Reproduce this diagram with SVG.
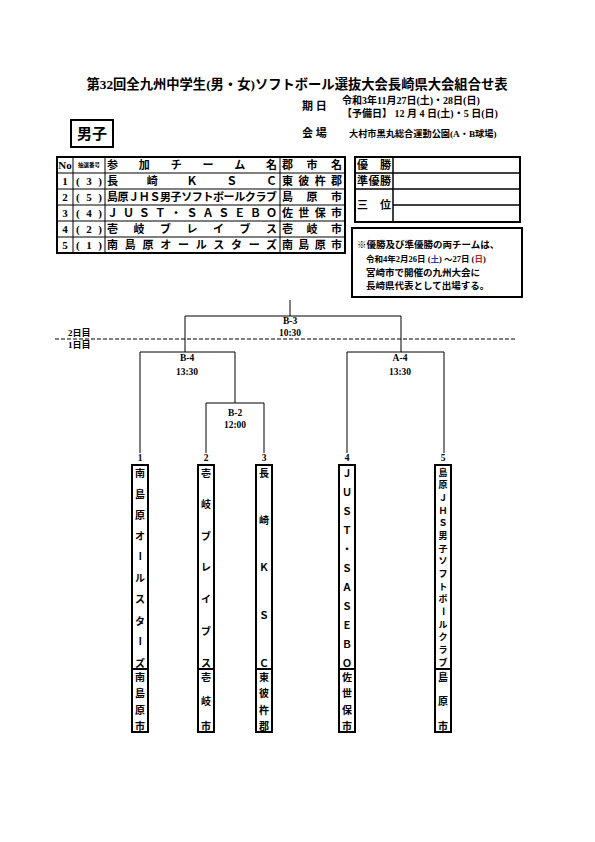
<svg xmlns="http://www.w3.org/2000/svg" width="595" height="842" viewBox="0 0 595 842">
<style>
text{font-family:"Liberation Serif","Noto Sans CJK JP",serif;font-weight:bold;fill:#000}
.c{text-anchor:middle;dominant-baseline:central}
.t{font-size:11px;dominant-baseline:central}
.v{font-family:"Noto Sans CJK JP",sans-serif;font-size:10px;text-anchor:middle;dominant-baseline:central}
.v5{font-size:9px}
.lbl{font-size:9.5px;text-anchor:middle}
.box{fill:none;stroke:#000;stroke-width:2}
.ln{fill:none;stroke:#000;stroke-width:1}
.w{stroke:#000;stroke-width:1.2}
</style>
<rect width="595" height="842" fill="#fff"/>

<g id="header">
<text x="297" y="89" font-size="13.3" text-anchor="middle">第32回全九州中学生(男・女)ソフトボール選抜大会長崎県大会組合せ表</text>
<text x="302" y="110" font-size="11">期 日</text>
<text x="342" y="104" font-size="10">令和3年11月27日(土)・28日(日)</text>
<text x="342" y="117" font-size="10">【予備日】 12 月 4 日(土)・5 日(日)</text>
<text x="302" y="137" font-size="11">会 場</text>
<text x="349" y="137" font-size="9.2">大村市黒丸総合運動公園(A・B球場)</text>
</g>

<g id="category">
<rect x="71" y="120" width="42" height="27" class="box"/>
<text x="92" y="134" font-size="15" class="c">男子</text>
</g>

<g id="entry-table">
<rect x="57" y="157" width="288" height="96" class="box"/>
<g class="ln">
<line x1="57" y1="173" x2="345" y2="173"/>
<line x1="57" y1="189" x2="345" y2="189"/>
<line x1="57" y1="205" x2="345" y2="205"/>
<line x1="57" y1="221" x2="345" y2="221"/>
<line x1="57" y1="237" x2="345" y2="237"/>
<line x1="73" y1="157" x2="73" y2="253"/>
<line x1="105" y1="157" x2="105" y2="253"/>
<line x1="280" y1="157" x2="280" y2="253"/>
</g>
<text x="65" y="165" class="c" font-size="11">No</text>
<text x="89" y="165" class="c" font-size="5.5">抽選番号</text>
<text x="107" y="165" class="t" textLength="170" lengthAdjust="spacing">参加チーム名</text>
<text x="282" y="165" class="t" textLength="60" lengthAdjust="spacing">郡市名</text>

<text x="65" y="181" class="c" font-size="11">1</text>
<text x="76" y="181" class="t" textLength="26" lengthAdjust="spacing">(3)</text>
<text x="107" y="181" class="t" textLength="170" lengthAdjust="spacing">長崎ＫＳＣ</text>
<text x="282" y="181" class="t" textLength="60" lengthAdjust="spacing">東彼杵郡</text>

<text x="65" y="197" class="c" font-size="11">2</text>
<text x="76" y="197" class="t" textLength="26" lengthAdjust="spacing">(5)</text>
<text x="107" y="197" class="t" textLength="170" lengthAdjust="spacing">島原ＪＨＳ男子ソフトボールクラブ</text>
<text x="282" y="197" class="t" textLength="60" lengthAdjust="spacing">島原市</text>

<text x="65" y="213" class="c" font-size="11">3</text>
<text x="76" y="213" class="t" textLength="26" lengthAdjust="spacing">(4)</text>
<text x="107" y="213" class="t" textLength="170" lengthAdjust="spacing">ＪＵＳＴ・ＳＡＳＥＢＯ</text>
<text x="282" y="213" class="t" textLength="60" lengthAdjust="spacing">佐世保市</text>

<text x="65" y="229" class="c" font-size="11">4</text>
<text x="76" y="229" class="t" textLength="26" lengthAdjust="spacing">(2)</text>
<text x="107" y="229" class="t" textLength="170" lengthAdjust="spacing">壱岐ブレイブス</text>
<text x="282" y="229" class="t" textLength="60" lengthAdjust="spacing">壱岐市</text>

<text x="65" y="245" class="c" font-size="11">5</text>
<text x="76" y="245" class="t" textLength="26" lengthAdjust="spacing">(1)</text>
<text x="107" y="245" class="t" textLength="170" lengthAdjust="spacing">南島原オールスターズ</text>
<text x="282" y="245" class="t" textLength="60" lengthAdjust="spacing">南島原市</text>
</g>

<g id="results">
<rect x="355" y="157" width="165" height="65" class="box"/>
<g class="ln">
<line x1="355" y1="173" x2="520" y2="173" stroke-width="1.5"/>
<line x1="355" y1="189" x2="520" y2="189" stroke-width="1.5"/>
<line x1="393" y1="205" x2="520" y2="205" stroke-width="1.5"/>
<line x1="393" y1="157" x2="393" y2="222" stroke-width="1.5"/>
</g>
<text x="357" y="165" class="t" font-size="10" textLength="34" lengthAdjust="spacing">優勝</text>
<text x="357" y="181" class="t" font-size="10" textLength="34" lengthAdjust="spacing">準優勝</text>
<text x="357" y="205" class="t" font-size="10" textLength="34" lengthAdjust="spacing">三位</text>
</g>

<g id="note">
<rect x="352" y="228" width="170" height="69" class="box"/>
<text x="357" y="248" font-size="9.5">※優勝及び準優勝の両チームは、</text>
<text x="366" y="262" font-size="8.5">令和4年2月26日 (<tspan fill="#1a3cc8">土</tspan>) ～27日 (<tspan fill="#d01818">日</tspan>)</text>
<text x="366" y="276" font-size="9.5">宮崎市で開催の九州大会に</text>
<text x="366" y="289" font-size="9.5">長崎県代表として出場する。</text>
</g>

<g id="day-divider">
<line x1="55" y1="339" x2="516" y2="339" class="w" stroke-dasharray="4 2"/>
<text x="68" y="336" font-size="9">2日目</text>
<text x="68" y="348" font-size="9">1日目</text>
</g>

<g id="connectors" class="ln">
<line x1="290" y1="300" x2="290" y2="316"/>
<polyline points="185,352 185,316 401,316 401,352"/>
<polyline points="140,453 140,352 235,352 235,403"/>
<polyline points="206,453 206,403 264,403 264,453"/>
<polyline points="347,453 347,352 444,352 444,453"/>
</g>

<g id="match-B3"><text x="290" y="324" class="lbl">B-3</text><text x="290" y="336" class="lbl">10:30</text></g>
<g id="match-B4"><text x="187" y="361" class="lbl">B-4</text><text x="187" y="375" class="lbl">13:30</text></g>
<g id="match-A4"><text x="400" y="361" class="lbl">A-4</text><text x="400" y="375" class="lbl">13:30</text></g>
<g id="match-B2"><text x="235" y="416" class="lbl">B-2</text><text x="235" y="428" class="lbl">12:00</text></g>

<g id="team-1">
<text x="140" y="461" class="lbl">1</text>
<rect x="132" y="465" width="16" height="267" class="box"/>
<line x1="132" y1="669" x2="148" y2="669" class="box"/>
<text x="140" y="472" class="v">南</text><text x="140" y="493" class="v">島</text><text x="140" y="514" class="v">原</text><text x="140" y="535" class="v">オ</text><text x="140" y="556" class="v" transform="rotate(90 140 556)">ー</text><text x="140" y="577" class="v">ル</text><text x="140" y="598" class="v">ス</text><text x="140" y="620" class="v">タ</text><text x="140" y="641" class="v" transform="rotate(90 140 641)">ー</text><text x="140" y="662" class="v">ズ</text>
<text x="140" y="676" class="v">南</text><text x="140" y="692" class="v">島</text><text x="140" y="709" class="v">原</text><text x="140" y="725" class="v">市</text>
</g>

<g id="team-2">
<text x="206" y="461" class="lbl">2</text>
<rect x="198" y="465" width="16" height="267" class="box"/>
<line x1="198" y1="669" x2="214" y2="669" class="box"/>
<text x="206" y="472" class="v">壱</text><text x="206" y="503" class="v">岐</text><text x="206" y="535" class="v">ブ</text><text x="206" y="566" class="v">レ</text><text x="206" y="598" class="v">イ</text><text x="206" y="630" class="v">ブ</text><text x="206" y="662" class="v">ス</text>
<text x="206" y="676" class="v">壱</text><text x="206" y="700" class="v">岐</text><text x="206" y="725" class="v">市</text>
</g>

<g id="team-3">
<text x="264" y="461" class="lbl">3</text>
<rect x="256" y="465" width="16" height="267" class="box"/>
<line x1="256" y1="669" x2="272" y2="669" class="box"/>
<text x="264" y="472" class="v">長</text><text x="264" y="519" class="v">崎</text><text x="264" y="566" class="v">Ｋ</text><text x="264" y="614" class="v">Ｓ</text><text x="264" y="662" class="v">Ｃ</text>
<text x="264" y="676" class="v">東</text><text x="264" y="692" class="v">彼</text><text x="264" y="709" class="v">杵</text><text x="264" y="725" class="v">郡</text>
</g>

<g id="team-4">
<text x="347" y="461" class="lbl">4</text>
<rect x="339" y="465" width="16" height="267" class="box"/>
<line x1="339" y1="669" x2="355" y2="669" class="box"/>
<text x="347" y="472" class="v">Ｊ</text><text x="347" y="491" class="v">Ｕ</text><text x="347" y="510" class="v">Ｓ</text><text x="347" y="529" class="v">Ｔ</text><text x="347" y="548" class="v">・</text><text x="347" y="567" class="v">Ｓ</text><text x="347" y="586" class="v">Ａ</text><text x="347" y="605" class="v">Ｓ</text><text x="347" y="624" class="v">Ｅ</text><text x="347" y="643" class="v">Ｂ</text><text x="347" y="662" class="v">Ｏ</text>
<text x="347" y="676" class="v">佐</text><text x="347" y="692" class="v">世</text><text x="347" y="709" class="v">保</text><text x="347" y="725" class="v">市</text>
</g>

<g id="team-5">
<text x="443" y="461" class="lbl">5</text>
<rect x="435" y="465" width="16" height="267" class="box"/>
<line x1="435" y1="669" x2="451" y2="669" class="box"/>
<text x="443" y="472" class="v v5">島</text><text x="443" y="484.7" class="v v5">原</text><text x="443" y="497.3" class="v v5">Ｊ</text><text x="443" y="510" class="v v5">Ｈ</text><text x="443" y="522.7" class="v v5">Ｓ</text><text x="443" y="535.3" class="v v5">男</text><text x="443" y="548" class="v v5">子</text><text x="443" y="560.7" class="v v5">ソ</text><text x="443" y="573.3" class="v v5">フ</text><text x="443" y="586" class="v v5">ト</text><text x="443" y="598.7" class="v v5">ボ</text><text x="443" y="611.3" class="v v5" transform="rotate(90 443 611.3)">ー</text><text x="443" y="624" class="v v5">ル</text><text x="443" y="636.7" class="v v5">ク</text><text x="443" y="649.3" class="v v5">ラ</text><text x="443" y="662" class="v v5">ブ</text>
<text x="443" y="676" class="v">島</text><text x="443" y="700" class="v">原</text><text x="443" y="725" class="v">市</text>
</g>
</svg>
